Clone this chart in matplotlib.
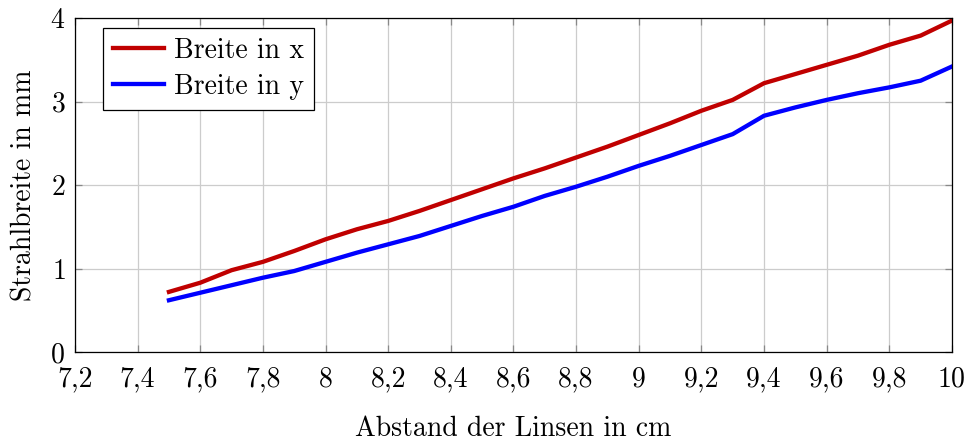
import numpy as np
import matplotlib.pyplot as plt
from matplotlib.ticker import FuncFormatter, MultipleLocator

plt.rcParams['font.family'] = ['cmr10', 'DejaVu Serif']
plt.rcParams['mathtext.fontset'] = 'cm'
plt.rcParams['axes.formatter.use_mathtext'] = True

# Abstand der Linsen (cm) und gemessene Strahlbreiten (mm)
abstand = [7.5, 7.6, 7.7, 7.8, 7.9, 8.0, 8.1, 8.2, 8.3, 8.4, 8.5, 8.6, 8.7,
           8.8, 8.9, 9.0, 9.1, 9.2, 9.3, 9.4, 9.5, 9.6, 9.7, 9.8, 9.9, 10.0]
breite_x = [0.72, 0.83, 0.98, 1.08, 1.21, 1.35, 1.47, 1.57, 1.69, 1.82, 1.95,
            2.08, 2.20, 2.33, 2.46, 2.60, 2.74, 2.89, 3.02, 3.22, 3.33, 3.44,
            3.55, 3.68, 3.79, 3.97]
breite_y = [0.62, 0.71, 0.80, 0.89, 0.97, 1.08, 1.19, 1.29, 1.39, 1.51, 1.63,
            1.74, 1.87, 1.98, 2.10, 2.23, 2.35, 2.48, 2.61, 2.83, 2.93, 3.02,
            3.10, 3.17, 3.25, 3.42]

fig = plt.figure(figsize=(9.7, 4.41), dpi=100)
ax = fig.add_axes([0.0773, 0.2018, 0.9041, 0.7572])

ax.plot(abstand, breite_x, color='#C00000', lw=3.1, label='Breite in x')
ax.plot(abstand, breite_y, color='#0000FF', lw=3.1, label='Breite in y')

ax.set_xlim(7.2, 10)
ax.set_ylim(0, 4)
ax.xaxis.set_major_locator(MultipleLocator(0.2))
ax.yaxis.set_major_locator(MultipleLocator(1))

def komma(v, pos):
    s = ('%.1f' % v).rstrip('0').rstrip('.')
    return s.replace('.', ',')

ax.xaxis.set_major_formatter(FuncFormatter(komma))
ax.grid(True, color='#cccccc', lw=0.9)
ax.set_axisbelow(True)
ax.tick_params(direction='in', length=5, width=0.9, color='#888888',
               labelsize=20, top=True, right=True)
ax.tick_params(axis='x', pad=10)
ax.tick_params(axis='y', pad=7)
for s in ax.spines.values():
    s.set_linewidth(0.9)

ax.set_xlabel('Abstand der Linsen in cm', fontsize=20, labelpad=17)
ax.set_ylabel('Strahlbreite in mm', fontsize=20, labelpad=9)

leg = ax.legend(loc='upper left', fontsize=20, frameon=True, fancybox=False,
                edgecolor='black', framealpha=1, handlelength=1.85,
                borderpad=0.35, labelspacing=0.35, handletextpad=0.35,
                borderaxespad=0, bbox_to_anchor=(0.032, 0.97))
leg.get_frame().set_linewidth(0.9)

fig.savefig('out.png', dpi=100)
